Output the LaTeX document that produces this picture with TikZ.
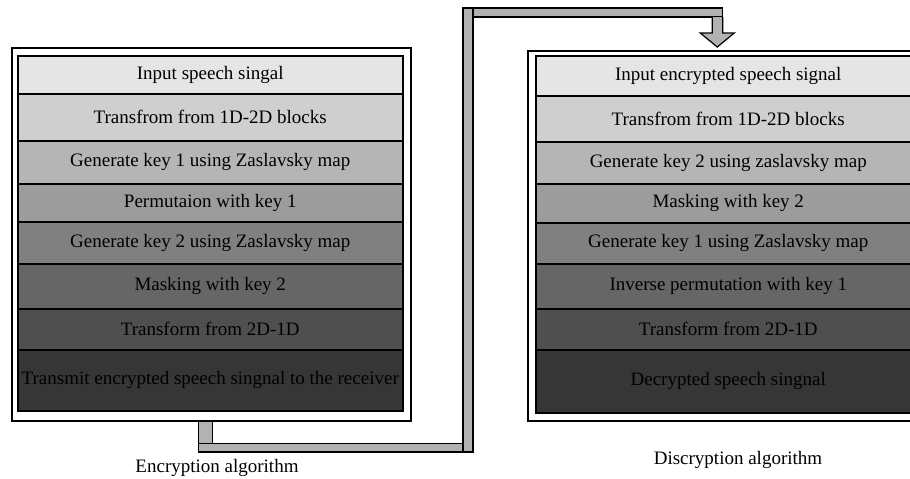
\documentclass[tikz,border=0pt]{standalone}
\usepackage{fontspec}
\setmainfont{Liberation Serif}
\usetikzlibrary{calc}
\definecolor{shadeA}{gray}{0.90}
\definecolor{shadeB}{gray}{0.81}
\definecolor{shadeC}{gray}{0.71}
\definecolor{shadeD}{gray}{0.61}
\definecolor{shadeE}{gray}{0.50}
\definecolor{shadeF}{gray}{0.40}
\definecolor{shadeG}{gray}{0.31}
\definecolor{shadeH}{gray}{0.21}
\definecolor{pipegray}{gray}{0.70}
\begin{document}
\begin{tikzpicture}[x=1pt,y=-1pt,
	stage/.style={draw,line width=1.5pt,minimum width=385pt,inner sep=0pt,anchor=north west,font=\fontsize{19}{22}\selectfont},
	frame/.style={draw,line width=1.5pt,fill=white,inner sep=0pt,anchor=north west,minimum width=399pt},
	pipe/.style={draw,line width=1.2pt,fill=pipegray},
	caption/.style={font=\fontsize{19}{22}\selectfont}]
			\clip (0,0) rectangle (910,479);
			% encryption side
			\node[frame,minimum height=373pt] (encbox) at (11,47) {};
			\node[stage,fill=shadeA,minimum height=38pt] (e1) at (17,55) {Input speech singal};
			\node[stage,fill=shadeB,minimum height=47pt] (e2) at (17,93) {Transfrom from 1D-2D blocks};
			\node[stage,fill=shadeC,minimum height=43pt] (e3) at (17,140) {Generate key 1 using Zaslavsky map};
			\node[stage,fill=shadeD,minimum height=38pt] (e4) at (17,183) {Permutaion with key 1};
			\node[stage,fill=shadeE,minimum height=42pt] (e5) at (17,221) {Generate key 2 using Zaslavsky map};
			\node[stage,fill=shadeF,minimum height=45pt] (e6) at (17,263) {Masking with key 2};
			\node[stage,fill=shadeG,minimum height=41pt] (e7) at (17,308) {Transform from 2D-1D};
			\node[stage,fill=shadeH,minimum height=61pt] (e8) at (17,349) {Transmit encrypted speech singnal to the receiver};
			\node[caption] (enccap) at (217,468) {Encryption algorithm};
			% decryption side
			\node[frame,minimum height=370pt] (decbox) at (527,50) {};
			\node[stage,fill=shadeA,minimum height=40pt] (d1) at (535,55) {Input encrypted speech signal};
			\node[stage,fill=shadeB,minimum height=46pt] (d2) at (535,95) {Transfrom from 1D-2D blocks};
			\node[stage,fill=shadeC,minimum height=42pt] (d3) at (535,141) {Generate key 2 using zaslavsky map};
			\node[stage,fill=shadeD,minimum height=39pt] (d4) at (535,183) {Masking with key 2};
			\node[stage,fill=shadeE,minimum height=41pt] (d5) at (535,222) {Generate key 1 using Zaslavsky map};
			\node[stage,fill=shadeF,minimum height=45pt] (d6) at (535,263) {Inverse permutation with key 1};
			\node[stage,fill=shadeG,minimum height=41pt] (d7) at (535,308) {Transform from 2D-1D};
			\node[stage,fill=shadeH,minimum height=63pt] (d8) at (535,349) {Decrypted speech singnal};
			\node[caption] (deccap) at (738,460) {Discryption algorithm};
			% pipe from one box to the other
			\coordinate (tx) at ($(encbox.south)+(-5.5,0)$);
			\coordinate (rx) at ($(decbox.north)+(-10,-3)$);
			\draw[pipe] ($(tx)+(-7,0)$) rectangle ($(tx)+(7,22)$);
			\draw[pipe] ($(tx)+(-7,22)$) rectangle (463,452);
			\draw[pipe] (463,8) rectangle (473,452);
			\draw[pipe] (473,8) rectangle ($(rx)+(5.5,-30)$);
			\draw[pipe] ($(rx)+(-5,-30)$) -- ($(rx)+(-5,-14)$) -- ($(rx)+(-17,-14)$) -- (rx)
				-- ($(rx)+(17,-14)$) -- ($(rx)+(5.5,-14)$) -- ($(rx)+(5.5,-30)$);
		\end{tikzpicture}
\end{document}
